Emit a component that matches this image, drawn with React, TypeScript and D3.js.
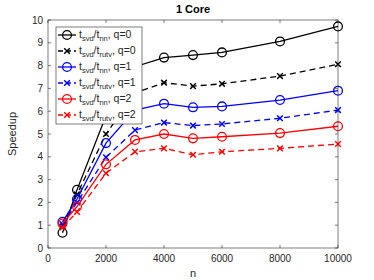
import React, { useEffect, useRef } from "react";
import * as d3 from "d3";

// chart data
const nValues = [500, 1000, 2000, 3000, 4000, 5000, 6000, 8000, 10000];
const nnQ0 = [0.67, 2.55, 5.8, 7.95, 8.35, 8.46, 8.58, 9.06, 9.72];
const rutvQ0 = [0.95, 2.35, 5.0, 6.8, 7.25, 7.1, 7.2, 7.54, 8.06];
const nnQ1 = [1.15, 2.15, 4.6, 6.05, 6.33, 6.17, 6.21, 6.49, 6.9];
const rutvQ1 = [1.05, 2.0, 3.98, 5.17, 5.5, 5.37, 5.44, 5.69, 6.05];
const nnQ2 = [1.07, 1.82, 3.67, 4.74, 5.0, 4.81, 4.88, 5.04, 5.34];
const rutvQ2 = [0.9, 1.58, 3.28, 4.22, 4.37, 4.09, 4.22, 4.37, 4.56];

const seriesNames = ["nn", "rutv", "nn", "rutv", "nn", "rutv"];
const seriesQ = [0, 0, 1, 1, 2, 2];
const seriesColors = ["#000000", "#000000", "#0000ff", "#0000ff", "#ff0000", "#ff0000"];
const seriesData = [nnQ0, rutvQ0, nnQ1, rutvQ1, nnQ2, rutvQ2];

const xTicks = [0, 2000, 4000, 6000, 8000, 10000];
const yTicks = [0, 1, 2, 3, 4, 5, 6, 7, 8, 9, 10];

export default function App() {
  const ref = useRef<SVGSVGElement>(null);

  useEffect(() => {
    const svg = d3.select(ref.current);
    svg.selectAll("*").remove();

    const margin = { top: 20, right: 36, bottom: 32, left: 48 };
    const width = 374;
    const height = 280;
    const w = width - margin.left - margin.right;
    const h = height - margin.top - margin.bottom;
    const font = "'Liberation Sans', Arial, sans-serif";
    const axisColor = "#262626";

    const x = d3.scaleLinear().domain([0, 10000]).range([0, w]);
    const y = d3.scaleLinear().domain([0, 10]).range([h, 0]);

    svg.append("rect").attr("width", width).attr("height", height).attr("fill", "#fff");

    const g = svg.append("g").attr("transform", `translate(${margin.left},${margin.top})`);

    // series
    seriesData.forEach((vals: number[], i: number) => {
      const pts = vals.map((v, j) => [x(nValues[j]), y(v)] as [number, number]);
      const dashed = i % 2 === 1;
      g.append("path")
        .attr("d", d3.line()(pts))
        .attr("fill", "none")
        .attr("stroke", seriesColors[i])
        .attr("stroke-width", 1.3)
        .attr("stroke-dasharray", dashed ? "6,4" : null);
      pts.forEach((p) => drawMarker(g, p[0], p[1], dashed, seriesColors[i]));
    });

    // axes box
    g.append("rect")
      .attr("width", w)
      .attr("height", h)
      .attr("fill", "none")
      .attr("stroke", axisColor)
      .attr("stroke-width", 0.6);

    const tl = 3;
    xTicks.forEach((t) => {
      g.append("line").attr("x1", x(t)).attr("x2", x(t)).attr("y1", h).attr("y2", h - tl)
        .attr("stroke", axisColor).attr("stroke-width", 0.6);
      g.append("line").attr("x1", x(t)).attr("x2", x(t)).attr("y1", 0).attr("y2", tl)
        .attr("stroke", axisColor).attr("stroke-width", 0.6);
      g.append("text")
        .attr("x", x(t))
        .attr("y", h + 14)
        .attr("text-anchor", "middle")
        .attr("font-family", font)
        .attr("font-size", 10)
        .attr("fill", axisColor)
        .text(t);
    });
    yTicks.forEach((t) => {
      g.append("line").attr("x1", 0).attr("x2", tl).attr("y1", y(t)).attr("y2", y(t))
        .attr("stroke", axisColor).attr("stroke-width", 0.6);
      g.append("line").attr("x1", w).attr("x2", w - tl).attr("y1", y(t)).attr("y2", y(t))
        .attr("stroke", axisColor).attr("stroke-width", 0.6);
      g.append("text")
        .attr("x", -5)
        .attr("y", y(t) + 3.5)
        .attr("text-anchor", "end")
        .attr("font-family", font)
        .attr("font-size", 10)
        .attr("fill", axisColor)
        .text(t);
    });

    // labels
    g.append("text")
      .attr("x", w / 2)
      .attr("y", h + 29)
      .attr("text-anchor", "middle")
      .attr("font-family", font)
      .attr("font-size", 11)
      .attr("fill", axisColor)
      .text("n");
    g.append("text")
      .attr("transform", `translate(${-32},${h / 2}) rotate(-90)`)
      .attr("text-anchor", "middle")
      .attr("font-family", font)
      .attr("font-size", 11)
      .attr("fill", axisColor)
      .text("Speedup");
    g.append("text")
      .attr("x", w / 2)
      .attr("y", -7)
      .attr("text-anchor", "middle")
      .attr("font-family", font)
      .attr("font-size", 11)
      .attr("font-weight", "bold")
      .attr("fill", "#000")
      .text("1 Core");

    // legend
    const lg = g.append("g").attr("transform", "translate(8,7)");
    lg.append("rect")
      .attr("width", 86)
      .attr("height", 97)
      .attr("fill", "#fff")
      .attr("stroke", axisColor)
      .attr("stroke-width", 0.6);
    seriesNames.forEach((name, i) => {
      const ly = 8 + i * 16;
      const dashed = i % 2 === 1;
      lg.append("line")
        .attr("x1", 2).attr("x2", 20).attr("y1", ly).attr("y2", ly)
        .attr("stroke", seriesColors[i])
        .attr("stroke-width", 1.3)
        .attr("stroke-dasharray", dashed ? "5,3" : null);
      drawMarker(lg, 11, ly, dashed, seriesColors[i]);
      const txt = lg.append("text")
        .attr("x", 23)
        .attr("y", ly + 3)
        .attr("font-family", font)
        .attr("font-size", 10.5)
        .attr("fill", axisColor);
      txt.append("tspan").text("t");
      txt.append("tspan").attr("font-size", 7.5).attr("dy", 2.5).text("svd");
      txt.append("tspan").attr("dy", -2.5).text("/t");
      txt.append("tspan").attr("font-size", 7.5).attr("dy", 2.5).text(name);
      txt.append("tspan").attr("dy", -2.5).text(`, q=${seriesQ[i]}`);
    });
  }, []);

  const drawMarker = (sel: any, cx: number, cy: number, cross: boolean, color: string) => {
    if (cross) {
      const s = 2.8;
      sel.append("path")
        .attr("d", `M${cx - s},${cy - s}L${cx + s},${cy + s}M${cx - s},${cy + s}L${cx + s},${cy - s}`)
        .attr("stroke", color)
        .attr("stroke-width", 1.5)
        .attr("fill", "none");
    } else {
      sel.append("circle")
        .attr("cx", cx)
        .attr("cy", cy)
        .attr("r", 4.4)
        .attr("fill", "none")
        .attr("stroke", color)
        .attr("stroke-width", 1.3);
    }
  };

  return (
    <div style={{ position: "absolute", left: 0, top: 0 }}>
      <svg ref={ref} width={374} height={280} />
    </div>
  );
}
